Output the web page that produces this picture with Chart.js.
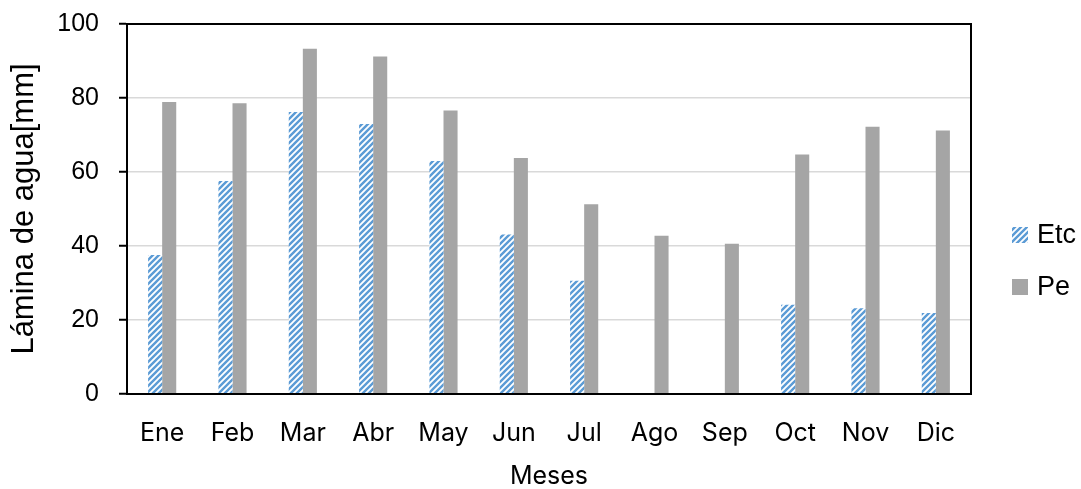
<!DOCTYPE html>
<html>
<head>
<meta charset="utf-8">
<script src="https://cdn.jsdelivr.net/npm/chart.js@4.4.1/dist/chart.umd.min.js"></script>
<style>
  html, body { margin: 0; padding: 0; background: #fff; }
  #wrap { width: 1081px; height: 489px; }
</style>
</head>
<body>
<div id="wrap"><canvas id="myChart" width="1081" height="489"></canvas></div>
<script>
const meses = ['Ene', 'Feb', 'Mar', 'Abr', 'May', 'Jun', 'Jul', 'Ago', 'Sep', 'Oct', 'Nov', 'Dic'];
const etc = [37.6, 57.6, 76.2, 73.0, 63.0, 43.1, 30.6, 0, 0, 24.1, 23.2, 21.9];
const pe = [78.9, 78.6, 93.3, 91.2, 76.6, 63.8, 51.3, 42.8, 40.6, 64.7, 72.2, 71.2];
const yTicks = [0, 20, 40, 60, 80, 100];

// trama diagonal azul para Etc
function makeHatch() {
  const s = 6;
  const c = document.createElement('canvas');
  c.width = s;
  c.height = s;
  const g = c.getContext('2d');
  g.fillStyle = '#ffffff';
  g.fillRect(0, 0, s, s);
  g.strokeStyle = '#5B9BD5';
  g.lineWidth = 2.4;
  g.beginPath();
  g.moveTo(-1, s + 1); g.lineTo(s + 1, -1);
  g.moveTo(-1, 1); g.lineTo(1, -1);
  g.moveTo(s - 1, s + 1); g.lineTo(s + 1, s - 1);
  g.stroke();
  return g.createPattern(c, 'repeat');
}
const hatch = makeHatch();

// marco negro alrededor del area del grafico
const frame = {
  id: 'frame',
  afterDatasetsDraw(chart) {
    const a = chart.chartArea, ctx = chart.ctx;
    ctx.save();
    ctx.strokeStyle = '#000';
    ctx.lineWidth = 2;
    ctx.strokeRect(a.left, a.top, a.right - a.left, a.bottom - a.top);
    ctx.restore();
  }
};

// leyenda a la derecha
const sideLegend = {
  id: 'sideLegend',
  afterDraw(chart) {
    const a = chart.chartArea, ctx = chart.ctx;
    ctx.save();
    ctx.font = '27px "Liberation Sans", Arial, sans-serif';
    ctx.textBaseline = 'middle';
    chart.data.datasets.forEach((ds, i) => {
      const y = 235 + i * 52;
      const x = a.right + 41;
      ctx.fillStyle = ds.backgroundColor;
      ctx.fillRect(x, y - 8, 16, 16);
      ctx.fillStyle = '#000';
      ctx.fillText(ds.label, x + 25, y + 1);
    });
    ctx.restore();
  }
};

const data = {
  labels: meses,
  datasets: [
    { label: 'Etc', data: etc, backgroundColor: hatch },
    { label: 'Pe', data: pe, backgroundColor: '#A5A5A5' },
  ],
};

const config = {
  type: 'bar',
  data,
  options: {
    responsive: false,
    animation: false,
    layout: { padding: { top: 24, right: 110, left: 0, bottom: 0 } },
    datasets: { bar: { categoryPercentage: 0.4, barPercentage: 1.0 } },
    plugins: {
      legend: { display: false },
      tooltip: { enabled: false },
    },
    scales: {
      x: {
        grid: { display: false, drawTicks: false },
        border: { display: true, color: '#000', width: 2 },
        ticks: {
          color: '#000',
          padding: 24,
          font: { size: 25, family: 'Inter, "Open Sans", sans-serif' },
        },
        title: {
          display: true,
          text: 'Meses',
          color: '#000',
          padding: { top: 0, bottom: -2 },
          font: { size: 25, family: 'Inter, "Open Sans", sans-serif' },
        },
        afterFit(scale) {
          scale.height = 95;
          scale.paddingLeft = 0;
          scale.paddingRight = 0;
        },
      },
      y: {
        min: 0,
        max: 100,
        afterBuildTicks(scale) { scale.ticks = yTicks.map(v => ({ value: v })); },
        grid: { color: '#D9D9D9', lineWidth: 1.5, tickColor: '#000', tickLength: 8, tickWidth: 2 },
        border: { display: true, color: '#000', width: 2 },
        ticks: {
          color: '#000',
          padding: 20,
          font: { size: 25, family: '"Liberation Sans", Arial, sans-serif' },
        },
        title: {
          display: true,
          text: 'Lámina de agua[mm]',
          color: '#000',
          padding: { top: 6, bottom: 0 },
          font: { size: 31, family: '"Liberation Sans", Arial, sans-serif' },
        },
        afterFit(scale) {
          scale.width = 127;
          scale.paddingTop = 0;
          scale.paddingBottom = 0;
        },
      },
    },
  },
  plugins: [frame, sideLegend],
};

var myChart = new Chart(document.getElementById('myChart'), config);
</script>
</body>
</html>
